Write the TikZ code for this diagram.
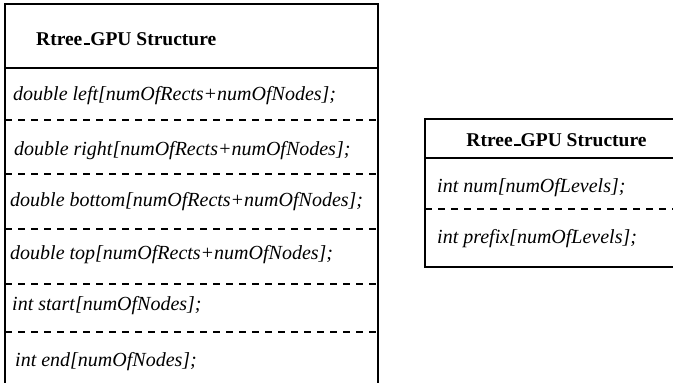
\documentclass[tikz,border=0pt]{standalone}
\usepackage{fontspec}
\setmainfont{Liberation Serif}
\usetikzlibrary{positioning}
\newcommand{\lowbar}{\leavevmode\kern.06em\vbox{\hrule width .35em height .09em}}
\tikzstyle{structbox} = [line width=2pt]
\tikzstyle{headline} = [line width=2.8pt]
\tikzstyle{fieldsep} = [line width=2.2pt, dash pattern=on 7pt off 6pt]
\tikzstyle{title} = [anchor=base, inner sep=0pt, font=\fontsize{19.5}{23}\selectfont\bfseries]
\tikzstyle{field} = [anchor=base west, inner sep=0pt, font=\fontsize{20}{24}\selectfont\itshape]

\begin{document}
\begin{tikzpicture}[x=1pt, y=-1pt]
    \clip (0,0) rectangle (673,383);

    % Rtree_GPU structure with the rectangle arrays
    \draw[structbox] (5,392) -- (5,4) -- (378,4) -- (378,392);
    \draw[headline] (5,68) -- (378,68);
    \node[title, anchor=base west] (rectstitle) at (36,45) {Rtree\lowbar GPU Structure};
    \node[field] (leftfield) at (13,100) {double left[numOfRects+numOfNodes];};
    \node[field] (rightfield) at (14,155) {double right[numOfRects+numOfNodes];};
    \node[field] (bottomfield) at (10,206) {double bottom[numOfRects+numOfNodes];};
    \node[field] (topfield) at (10,259) {double top[numOfRects+numOfNodes];};
    \node[field] (startfield) at (12,310) {int start[numOfNodes];};
    \node[field] (endfield) at (15,366) {int end[numOfNodes];};
    \foreach \y in {120,174,229,284,332}
        \draw[fieldsep] (5,\y) -- (378,\y);

    % Rtree_GPU structure with the level counts
    \draw[structbox] (680,119) -- (425,119) -- (425,267) -- (680,267);
    \draw[headline] (425,158) -- (680,158);
    \node[title] (levelstitle) at (556.5,146) {Rtree\lowbar GPU Structure};
    \node[field] (numfield) at (437,192) {int num[numOfLevels];};
    \node[field] (prefixfield) at (437,243) {int prefix[numOfLevels];};
    \draw[fieldsep] (425,209) -- (680,209);
\end{tikzpicture}
\end{document}
